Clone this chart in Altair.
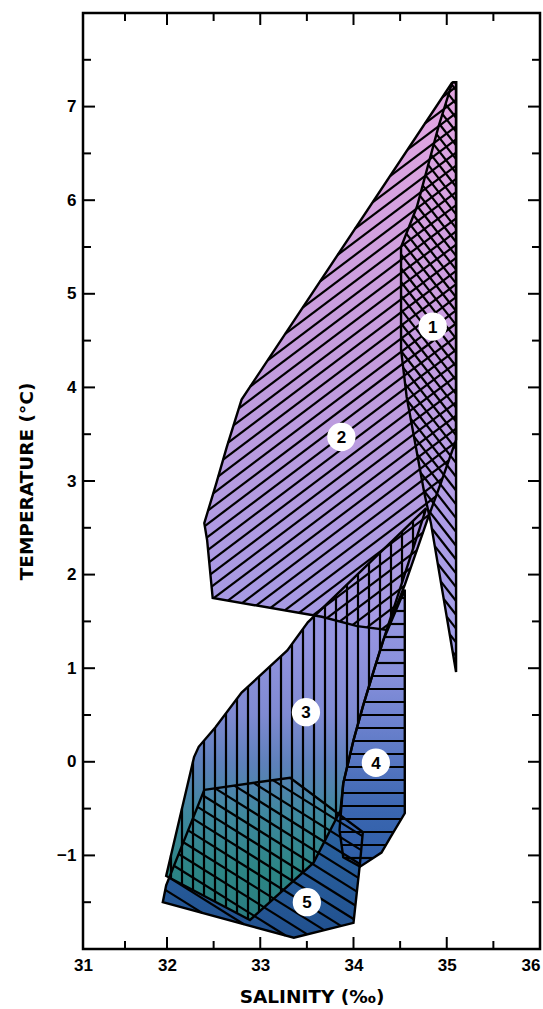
import math
import numpy as np
import pandas as pd
import altair as alt

# ---------------- data (salinity ‰, temperature °C) ----------------
p1_s = [35.06, 35.10, 35.10, 34.83, 34.76, 34.57, 34.51, 34.51, 34.68, 34.91]
p1_t = [7.26, 7.26, 0.96, 2.55, 2.87, 3.90, 4.40, 5.50, 5.93, 6.78]

p2_s = [35.06, 35.10, 35.10, 34.93, 34.79, 34.55, 34.36, 34.04, 33.66, 32.49, 32.43, 32.40, 32.53, 32.64, 32.80]
p2_t = [7.26, 7.26, 3.44, 2.96, 2.58, 1.89, 1.41, 1.45, 1.55, 1.75, 2.37, 2.55, 2.98, 3.36, 3.87]

p3_s = [34.78, 34.32, 34.21, 34.10, 34.00, 33.89, 33.86, 33.57, 32.89, 31.99, 32.29, 32.34, 32.52, 32.80, 33.29, 33.51]
p3_t = [2.71, 1.30, 0.95, 0.59, 0.23, -0.23, -0.52, -1.08, -1.69, -1.22, 0.05, 0.16, 0.37, 0.74, 1.19, 1.49]

p4_s = [34.55, 34.55, 34.40, 34.30, 34.07, 33.89, 33.85, 33.89, 34.00, 34.10, 34.21, 34.32]
p4_t = [1.84, -0.55, -0.80, -0.97, -1.12, -1.02, -0.73, -0.23, 0.23, 0.59, 0.95, 1.30]

p5_s = [32.40, 33.32, 34.10, 34.07, 34.00, 33.36, 31.95, 31.99]
p5_t = [-0.30, -0.17, -0.75, -1.08, -1.72, -1.88, -1.50, -1.32]

label_ids = ["1", "2", "3", "4", "5"]
label_s = [34.85, 33.87, 33.49, 34.24, 33.50]
label_t = [4.65, 3.47, 0.53, -0.01, -1.50]

x_major = [32, 33, 34, 35]
x_minor = [31.5, 32.5, 33.5, 34.5, 35.5]
y_major = [-1, 0, 1, 2, 3, 4, 5, 6, 7]
y_minor = [-1.5, -0.5, 0.5, 1.5, 2.5, 3.5, 4.5, 5.5, 6.5, 7.5]
x_labels = [31, 32, 33, 34, 35, 36]
y_labels = [-1, 0, 1, 2, 3, 4, 5, 6, 7]

# ---------------- layout ----------------
W, H = 457, 936
X_DOM = [31, 32, 36]
X_RNG = [0, 84, 457]
Y_DOM = [-2, 8]
FONT = "Liberation Sans"
TFONT = "DejaVu Sans"

xs = alt.Scale(domain=X_DOM, range=X_RNG, nice=False, zero=False)
ys = alt.Scale(domain=Y_DOM, nice=False, zero=False)

x_axis = alt.Axis(
    values=x_labels, domain=False, ticks=False, grid=False, labelFont=FONT, labelFontSize=17,
    labelFontWeight="bold", labelColor="black", labelPadding=8, labelFlush=False,
    labelAlign=alt.ExprRef(expr="datum.value == 36 ? 'right' : 'center'"),
    title="SALINITY (‰)", titleFont=TFONT, titleFontSize=18.5, titleFontWeight="bold",
    titleColor="black", titlePadding=14)
y_axis = alt.Axis(
    values=y_labels, domain=False, ticks=False, grid=False, labelFont=FONT, labelFontSize=17,
    labelFontWeight="bold", labelColor="black", labelPadding=7, labelFlush=False,
    title="TEMPERATURE (°C)", titleFont=TFONT, titleFontSize=18.5, titleFontWeight="bold",
    titleColor="black", titlePadding=20)


def to_px(s, t):
    return float(np.interp(s, X_DOM, X_RNG)), (Y_DOM[1] - t) / (Y_DOM[1] - Y_DOM[0]) * H


def to_data(px, py):
    return float(np.interp(px, X_RNG, X_DOM)), Y_DOM[1] - py / H * (Y_DOM[1] - Y_DOM[0])


def hatch(s_list, t_list, angle_deg, spacing, name):
    pts = [to_px(s, t) for s, t in zip(s_list, t_list)]
    th = math.radians(angle_deg)
    u = (math.cos(th), -math.sin(th))
    n = (-u[1], u[0])
    proj = [p[0] * n[0] + p[1] * n[1] for p in pts]
    rows = []
    c = math.ceil(min(proj) / spacing) * spacing
    k = len(pts)
    while c < max(proj):
        hits = []
        for i in range(k):
            a, b = pts[i], pts[(i + 1) % k]
            fa, fb = proj[i] - c, proj[(i + 1) % k] - c
            if (fa < 0) != (fb < 0):
                r = fa / (fa - fb)
                hits.append((a[0] + r * (b[0] - a[0]), a[1] + r * (b[1] - a[1])))
        hits.sort(key=lambda p: p[0] * u[0] + p[1] * u[1])
        for j in range(0, len(hits) - 1, 2):
            s1, t1 = to_data(*hits[j])
            s2, t2 = to_data(*hits[j + 1])
            rows.append({"poly": name, "s1": s1, "t1": t1, "s2": s2, "t2": t2})
        c += spacing
    return rows


polys = [
    ("1", p1_s, p1_t, -52, 8.5),
    ("2", p2_s, p2_t, 37, 10.5),
    ("3", p3_s, p3_t, 90, 11.0),
    ("4", p4_s, p4_t, 0, 13.0),
    ("5", p5_s, p5_t, -32, 12.5),
]

gradients = {
    "1": [("#e3a6e1", 0), ("#c99de0", 0.4), ("#ad9de6", 0.75), ("#9ea0ea", 1)],
    "2": [("#e3a6e1", 0), ("#c49cdd", 0.5), ("#a39ae4", 1)],
    "3": [("#a09ce6", 0), ("#9494e0", 0.32), ("#7f8ad2", 0.5), ("#5d80ba", 0.62),
          ("#3f889f", 0.74), ("#2c8585", 0.88), ("#2a7c80", 1)],
    "4": [("#9c9ae4", 0), ("#8890dc", 0.3), ("#5a78c4", 0.6), ("#3a66b0", 0.8), ("#2f5ea8", 1)],
    "5": [("#2e6aa8", 0), ("#285e9c", 0.5), ("#21508e", 1)],
}

poly_rows = []
for name, s_l, t_l, _, _ in polys:
    for i, (s, t) in enumerate(list(zip(s_l, t_l)) + [(s_l[0], t_l[0])]):
        poly_rows.append({"poly": name, "idx": i, "s": s, "t": t})
poly_df = pd.DataFrame(poly_rows)

hatch_rows = []
for name, s_l, t_l, ang, sp in polys:
    hatch_rows += hatch(s_l, t_l, ang, sp, name)
hatch_df = pd.DataFrame(hatch_rows)


def X(field="s:Q"):
    return alt.X(field, scale=xs, axis=x_axis)


def Y(field="t:Q"):
    return alt.Y(field, scale=ys, axis=y_axis)


fill_order = ["5", "4", "3", "2", "1"]
fill_layers = []
for name in fill_order:
    grad = alt.LinearGradient(
        gradient="linear", x1=0, x2=0, y1=0, y2=1,
        stops=[alt.GradientStop(color=c, offset=o) for c, o in gradients[name]],
    )
    fill_layers.append(
        alt.Chart(poly_df[poly_df.poly == name]).mark_line(fill=grad, strokeWidth=0)
        .encode(x=X(), y=Y(), order="idx:Q")
    )

hatch_layer = alt.Chart(hatch_df).mark_rule(color="black", strokeWidth=2.2).encode(
    x=X("s1:Q"), y=Y("t1:Q"), x2="s2:Q", y2="t2:Q",
)

outline_layer = alt.Chart(poly_df).mark_line(color="black", strokeWidth=2.4, strokeJoin="miter").encode(
    x=X(), y=Y(), order="idx:Q", detail="poly:N"
)

lab_df = pd.DataFrame({"lab": label_ids, "s": label_s, "t": label_t})
circ_layer = alt.Chart(lab_df).mark_circle(size=800, color="white", opacity=1).encode(x=X(), y=Y())
text_layer = alt.Chart(lab_df).mark_text(font=FONT, fontWeight="bold", fontSize=17, color="black", dy=1).encode(
    x=X(), y=Y(), text="lab:N"
)


# tick marks (inward, on all four sides)
def xticks(vals, length):
    d = pd.DataFrame({"v": vals})
    b = alt.Chart(d).mark_rule(color="black", strokeWidth=2).encode(
        x=X("v:Q"), y=alt.value(H), y2=alt.value(H - length))
    t = alt.Chart(d).mark_rule(color="black", strokeWidth=2).encode(
        x=X("v:Q"), y=alt.value(0), y2=alt.value(length))
    return [b, t]


def yticks(vals, length):
    d = pd.DataFrame({"v": vals})
    l = alt.Chart(d).mark_rule(color="black", strokeWidth=2).encode(
        y=Y("v:Q"), x=alt.value(0), x2=alt.value(length))
    r = alt.Chart(d).mark_rule(color="black", strokeWidth=2).encode(
        y=Y("v:Q"), x=alt.value(W), x2=alt.value(W - length))
    return [l, r]


tick_layers = xticks(x_major, 12) + xticks(x_minor, 8) + yticks(y_major, 12) + yticks(y_minor, 8)

chart = alt.layer(
    *fill_layers, hatch_layer, outline_layer, *tick_layers, circ_layer, text_layer
).properties(
    width=W, height=H, autosize="none",
    padding={"left": 83, "top": 13, "right": 3, "bottom": 60},
).configure_view(stroke="black", strokeWidth=2.5)

chart.save("out.html", embed_options={"renderer": "svg", "actions": False})
